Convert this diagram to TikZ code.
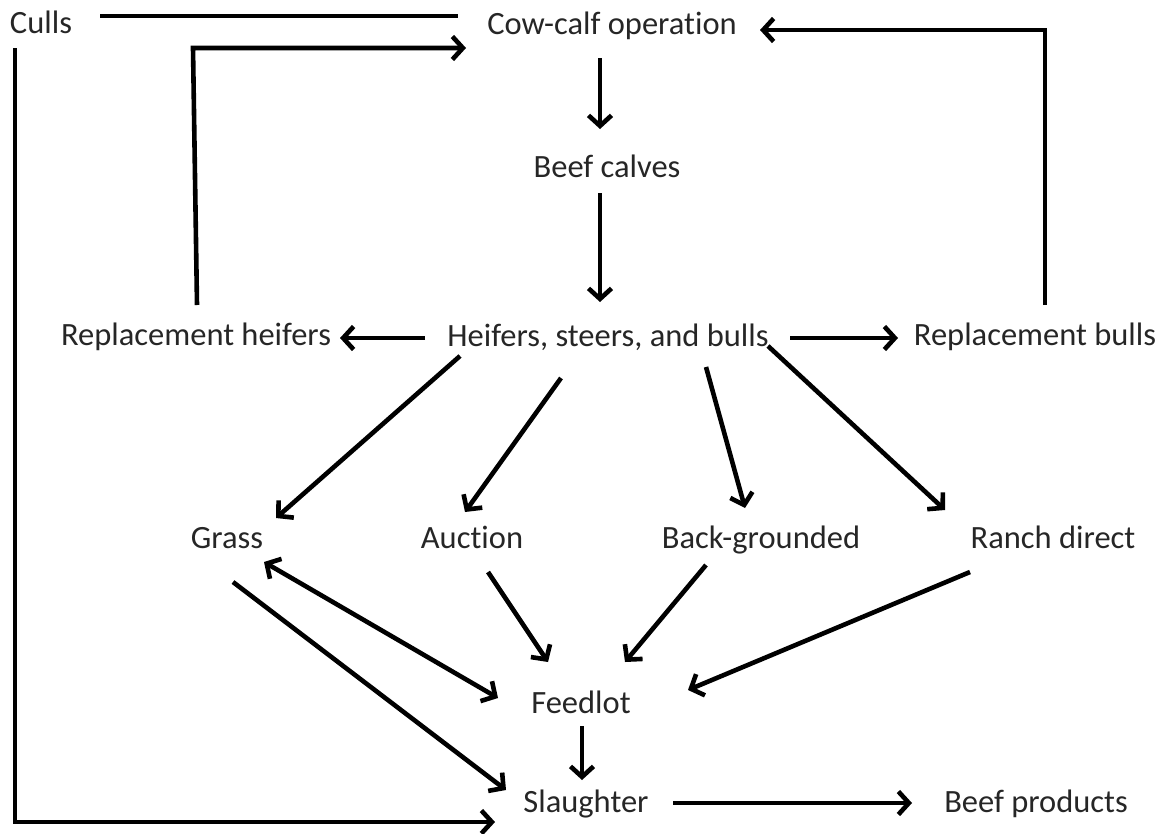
\documentclass[tikz,border=0pt]{standalone}
\usepackage{fontspec}
\setmainfont{Carlito}[Ligatures=NoCommon]
\usetikzlibrary{arrows.meta}
\begin{document}
\begin{tikzpicture}[x=1pt,y=-1pt,
  lbl/.style={font=\fontsize{32.5}{36}\selectfont, text=black!85, inner sep=0pt, anchor=base},
  ln/.style={line width=4.6pt, line cap=butt},
  tip/.style={Straight Barb[length=10.5pt,width=23pt,line width=4.6pt]},
  arr/.style={ln, -{Straight Barb[length=10.5pt,width=23pt,line width=4.6pt]}},
  darr/.style={ln, {Straight Barb[length=10.5pt,width=23pt,line width=4.6pt]}-{Straight Barb[length=10.5pt,width=23pt,line width=4.6pt]}}]
\useasboundingbox (0,0) rectangle (1169,833);
\node[lbl] (culls) at (41,33) {Culls};
\node[lbl] (cow) at (612,34) {Cow-calf operation};
\node[lbl] (calves) at (607,177) {Beef calves};
\node[lbl] (hsb) at (608,346) {Heifers, steers, and bulls};
\node[lbl] (rh) at (196,345) {Replacement heifers};
\node[lbl] (rb) at (1035,345) {Replacement bulls};
\node[lbl] (grass) at (227,548) {Grass};
\node[lbl] (auction) at (472,548) {Auction};
\node[lbl] (back) at (761,548) {Back-grounded};
\node[lbl] (ranch) at (1053,548) {Ranch direct};
\node[lbl] (feed) at (581,713) {Feedlot};
\node[lbl] (sl) at (586,812) {Slaughter};
\node[lbl] (bp) at (1036,812) {Beef products};
% culls
\draw[ln] ([shift={(59,-17)}]culls.base) -- ([shift={(-154,-18)}]cow.base);
\draw[arr] ([shift={(-26,15)}]culls.base) |- ([shift={(-91,10)}]sl.base);
% replacement heifers back to cow-calf
\draw[arr] ([shift={(1,-40)}]rh.base) -- ([shift={(-3,-297)}]rh.base) -- ([shift={(-146,14)}]cow.base);
% replacement bulls back to cow-calf
\draw[arr] ([shift={(10,-40)}]rb.base) |- ([shift={(148,-4)}]cow.base);
% main chain
\draw[arr] ([shift={(-12,24)}]cow.base) -- ([shift={(-7,-48)}]calves.base);
\draw[arr] ([shift={(-7,16)}]calves.base) -- ([shift={(-8,-44)}]hsb.base);
\draw[arr] ([shift={(-183,-8)}]hsb.base) -- ([shift={(144,-7)}]rh.base);
\draw[arr] ([shift={(182,-8)}]hsb.base) -- ([shift={(-137,-7)}]rb.base);
% fan out
\draw[arr] ([shift={(-148,10)}]hsb.base) -- ([shift={(49,-30)}]grass.base);
\draw[arr] ([shift={(-47,32)}]hsb.base) -- ([shift={(-7,-36)}]auction.base);
\draw[arr] ([shift={(98,21)}]hsb.base) -- ([shift={(-16,-40)}]back.base);
\draw[arr] ([shift={(160,0)}]hsb.base) -- ([shift={(-108,-38)}]ranch.base);
% to feedlot
\draw[darr] ([shift={(37,14)}]grass.base) -- ([shift={(-83,-15)}]feed.base);
\draw[arr] ([shift={(16,24)}]auction.base) -- ([shift={(-33,-51)}]feed.base);
\draw[arr] ([shift={(-55,17)}]back.base) -- ([shift={(44,-51)}]feed.base);
\draw[arr] ([shift={(-83,24)}]ranch.base) -- ([shift={(107,-23)}]feed.base);
% to slaughter
\draw[arr] ([shift={(6,34)}]grass.base) -- ([shift={(-80,-22)}]sl.base);
\draw[arr] ([shift={(1,13)}]feed.base) -- ([shift={(-4,-32)}]sl.base);
\draw[arr] ([shift={(87,-9)}]sl.base) -- ([shift={(-124,-9)}]bp.base);
\end{tikzpicture}
\end{document}
